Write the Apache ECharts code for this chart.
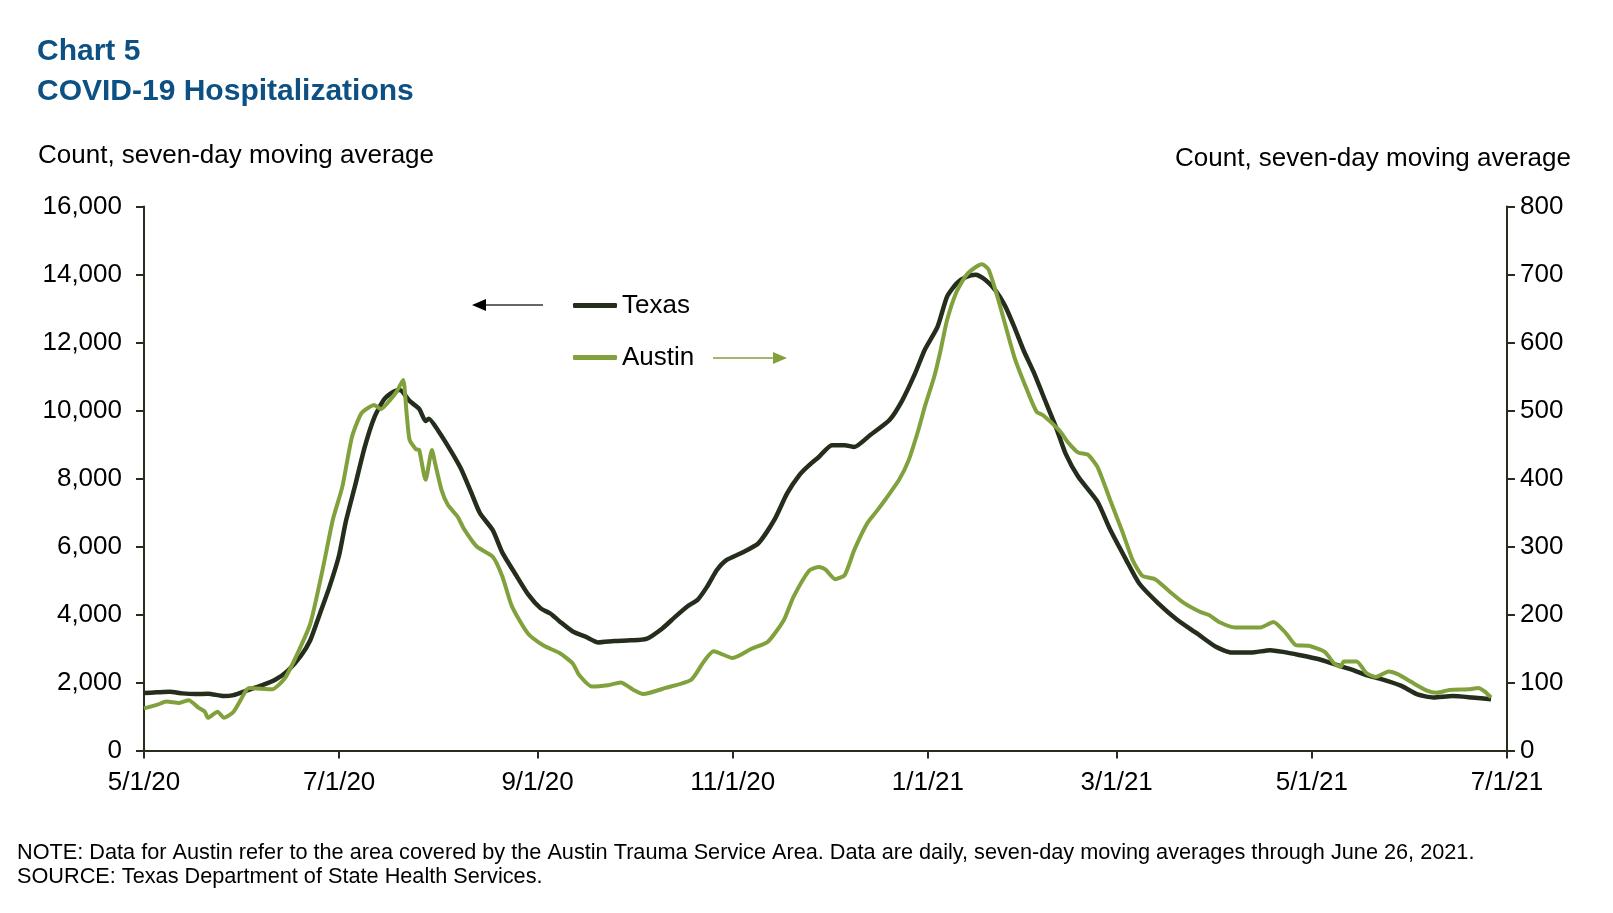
<!DOCTYPE html>
<html>
<head>
<meta charset="utf-8">
<script src="https://cdn.jsdelivr.net/npm/echarts@6/dist/echarts.min.js"></script>
<style>html,body{margin:0;padding:0;background:#fff}#c{width:1613px;height:913px}</style>
</head>
<body>
<div id="c"></div>
<script>
// ---- Data ----
const tickDates = ['2020-05-01','2020-07-01','2020-09-01','2020-11-01','2021-01-01','2021-03-01','2021-05-01','2021-07-01'];
const tickLabels = ['5/1/20','7/1/20','9/1/20','11/1/20','1/1/21','3/1/21','5/1/21','7/1/21'];

const texasDates = ['2020-05-01','2020-05-05','2020-05-09','2020-05-13','2020-05-17','2020-05-21','2020-05-26','2020-05-29','2020-06-02','2020-06-07','2020-06-11','2020-06-15','2020-06-19','2020-06-22','2020-06-25','2020-06-28','2020-07-01','2020-07-03','2020-07-06','2020-07-09','2020-07-12','2020-07-15','2020-07-18','2020-07-20','2020-07-23','2020-07-26','2020-07-28','2020-07-29','2020-08-01','2020-08-05','2020-08-08','2020-08-11','2020-08-14','2020-08-18','2020-08-21','2020-08-25','2020-08-29','2020-09-02','2020-09-05','2020-09-08','2020-09-12','2020-09-16','2020-09-20','2020-09-25','2020-09-30','2020-10-05','2020-10-10','2020-10-14','2020-10-18','2020-10-21','2020-10-24','2020-10-27','2020-10-30','2020-11-04','2020-11-09','2020-11-14','2020-11-18','2020-11-22','2020-11-25','2020-11-28','2020-12-02','2020-12-06','2020-12-09','2020-12-14','2020-12-20','2020-12-24','2020-12-28','2020-12-31','2021-01-04','2021-01-07','2021-01-10','2021-01-13','2021-01-16','2021-01-19','2021-01-22','2021-01-25','2021-01-28','2021-01-31','2021-02-03','2021-02-07','2021-02-10','2021-02-13','2021-02-17','2021-02-23','2021-02-27','2021-03-04','2021-03-08','2021-03-14','2021-03-20','2021-03-26','2021-04-01','2021-04-06','2021-04-12','2021-04-18','2021-04-22','2021-04-27','2021-05-03','2021-05-08','2021-05-13','2021-05-18','2021-05-23','2021-05-29','2021-06-03','2021-06-08','2021-06-14','2021-06-20','2021-06-26'];
const texasValues = [1690,1710,1730,1680,1660,1670,1600,1630,1760,1920,2080,2350,2780,3250,4030,4820,5750,6700,7800,8930,9800,10320,10550,10600,10280,10050,9690,9760,9400,8800,8300,7650,6980,6480,5820,5200,4600,4180,4030,3790,3500,3350,3180,3220,3240,3280,3590,3930,4250,4430,4820,5300,5600,5820,6090,6780,7560,8120,8400,8640,8980,8980,8930,9280,9720,10300,11090,11780,12460,13350,13740,13930,13990,13840,13550,13100,12460,11750,11140,10210,9520,8740,8050,7320,6490,5600,4920,4330,3840,3450,3050,2880,2880,2950,2900,2810,2690,2540,2390,2220,2090,1900,1650,1560,1600,1560,1510];

const austinDates = ['2020-05-01','2020-05-05','2020-05-08','2020-05-12','2020-05-15','2020-05-18','2020-05-20','2020-05-21','2020-05-24','2020-05-26','2020-05-29','2020-06-02','2020-06-03','2020-06-10','2020-06-14','2020-06-18','2020-06-22','2020-06-26','2020-06-29','2020-07-02','2020-07-05','2020-07-08','2020-07-12','2020-07-14','2020-07-17','2020-07-19','2020-07-21','2020-07-22','2020-07-23','2020-07-25','2020-07-26','2020-07-28','2020-07-30','2020-07-31','2020-08-02','2020-08-04','2020-08-07','2020-08-09','2020-08-13','2020-08-18','2020-08-21','2020-08-24','2020-08-29','2020-09-03','2020-09-08','2020-09-12','2020-09-14','2020-09-18','2020-09-23','2020-09-27','2020-10-01','2020-10-04','2020-10-11','2020-10-19','2020-10-23','2020-10-26','2020-11-01','2020-11-07','2020-11-12','2020-11-17','2020-11-20','2020-11-25','2020-11-28','2020-11-30','2020-12-03','2020-12-06','2020-12-09','2020-12-13','2020-12-16','2020-12-19','2020-12-23','2020-12-26','2020-12-29','2020-12-31','2021-01-03','2021-01-05','2021-01-07','2021-01-10','2021-01-13','2021-01-16','2021-01-18','2021-01-20','2021-01-23','2021-01-28','2021-02-01','2021-02-04','2021-02-06','2021-02-11','2021-02-14','2021-02-17','2021-02-20','2021-02-23','2021-02-27','2021-03-03','2021-03-06','2021-03-09','2021-03-13','2021-03-17','2021-03-22','2021-03-27','2021-03-30','2021-04-02','2021-04-07','2021-04-15','2021-04-19','2021-04-23','2021-04-26','2021-04-30','2021-05-05','2021-05-08','2021-05-10','2021-05-11','2021-05-15','2021-05-18','2021-05-21','2021-05-25','2021-05-28','2021-06-01','2021-06-06','2021-06-09','2021-06-13','2021-06-19','2021-06-22','2021-06-24','2021-06-26'];
const austinValues = [62,67,72,70,74,63,57,48,57,48,57,89,92,90,106,143,187,270,339,388,461,496,508,502,516,528,545,500,457,443,442,398,442,422,383,361,344,326,300,285,256,212,172,154,143,128,111,94,96,100,89,83,92,104,131,146,136,150,160,192,226,265,270,266,252,258,295,334,352,371,398,427,471,505,550,589,633,675,699,711,715,707,663,579,530,498,493,471,452,438,435,417,368,319,280,257,252,236,217,204,199,189,181,181,189,172,155,154,145,128,123,131,131,114,108,116,112,101,88,85,89,90,92,87,78];

const seriesNames = ['Texas','Austin'];
const titleLines = ['Chart 5','COVID-19 Hospitalizations'];
const axisTitle = 'Count, seven-day moving average';
const noteLines = ['NOTE: Data for Austin refer to the area covered by the Austin Trauma Service Area. Data are daily, seven-day moving averages through June 26, 2021.','SOURCE: Texas Department of State Health Services.'];

// ---- Chart ----
const FONT = '"Liberation Sans", Arial, sans-serif';
const DARK = '#252e1c';
const GREEN = '#80a13c';
const BLUE = '#0d5083';
const toTs = d => +echarts.time.parse(d);
const tickTs = tickDates.map(toTs);

const chart = echarts.init(document.getElementById('c'), null, {renderer: 'canvas'});

const axisCommon = {
  axisLine: {show: true, lineStyle: {color: DARK, width: 2}},
  axisTick: {show: true, length: 8, lineStyle: {color: DARK, width: 2}},
  splitLine: {show: false},
  axisLabel: {color: '#000', fontSize: 26, fontFamily: FONT}
};

function txt(text, x, y, opts) {
  return {
    type: 'text', silent: true,
    style: Object.assign({
      text: text, x: x, y: y,
      font: '26px ' + FONT, fill: '#000',
      textAlign: 'left', textVerticalAlign: 'middle',
      align: 'left', verticalAlign: 'middle'
    }, opts || {})
  };
}

const option = {
  backgroundColor: '#fff',
  animation: false,
  grid: {left: 144, right: 106, top: 206.5, bottom: 162.5},
  legend: {
    orient: 'vertical', left: 568, top: 287.5,
    itemWidth: 44, itemHeight: 5, itemGap: 26,
    icon: 'roundRect',
    textStyle: {fontSize: 26, color: '#000', fontFamily: FONT},
    data: seriesNames
  },
  xAxis: {
    type: 'value',
    min: tickTs[0], max: tickTs[tickTs.length - 1],
    axisLine: {show: true, onZero: false, lineStyle: {color: DARK, width: 2}},
    axisTick: {show: true, length: 8, lineStyle: {color: DARK, width: 2}, customValues: tickTs},
    splitLine: {show: false},
    axisLabel: {
      color: '#000', fontSize: 26, fontFamily: FONT, margin: 19,
      customValues: tickTs,
      formatter: function (v) { const i = tickTs.indexOf(v); return i >= 0 ? tickLabels[i] : ''; }
    }
  },
  yAxis: [
    Object.assign({}, axisCommon, {
      type: 'value', position: 'left', min: 0, max: 16000, interval: 2000,
      axisLabel: Object.assign({}, axisCommon.axisLabel, {margin: 22, formatter: v => v.toLocaleString('en-US')})
    }),
    Object.assign({}, axisCommon, {
      type: 'value', position: 'right', min: 0, max: 800, interval: 100,
      axisLabel: Object.assign({}, axisCommon.axisLabel, {margin: 13})
    })
  ],
  series: [
    {
      name: seriesNames[0], type: 'line', yAxisIndex: 0, showSymbol: false, symbol: 'none',
      smooth: 0.2,
      lineStyle: {color: DARK, width: 4.5}, itemStyle: {color: DARK},
      data: texasDates.map((d, i) => [toTs(d), texasValues[i]])
    },
    {
      name: seriesNames[1], type: 'line', yAxisIndex: 1, showSymbol: false, symbol: 'none',
      smooth: 0.2,
      lineStyle: {color: GREEN, width: 4}, itemStyle: {color: GREEN},
      data: austinDates.map((d, i) => [toTs(d), austinValues[i]])
    }
  ],
  graphic: [
    txt(titleLines[0], 37, 52, {font: 'bold 30px ' + FONT, fill: BLUE}),
    txt(titleLines[1], 37, 92, {font: 'bold 30px ' + FONT, fill: BLUE}),
    txt(axisTitle, 38, 156, {font: '26px ' + FONT}),
    txt(axisTitle, 1571, 159, {font: '26px ' + FONT, textAlign: 'right', align: 'right'}),
    txt(noteLines[0], 17, 853, {font: '21.7px ' + FONT}),
    txt(noteLines[1], 17, 877, {font: '21.7px ' + FONT}),
    {type: 'line', silent: true, shape: {x1: 543, y1: 305, x2: 482, y2: 305}, style: {stroke: '#333', lineWidth: 1.5}},
    {type: 'polygon', silent: true, shape: {points: [[472, 305], [486, 299], [486, 311]]}, style: {fill: '#000'}},
    {type: 'line', silent: true, shape: {x1: 713, y1: 358, x2: 776, y2: 358}, style: {stroke: GREEN, lineWidth: 1.5}},
    {type: 'polygon', silent: true, shape: {points: [[787, 358], [773, 352], [773, 364]]}, style: {fill: GREEN}}
  ]
};
chart.setOption(option);
</script>
</body>
</html>
